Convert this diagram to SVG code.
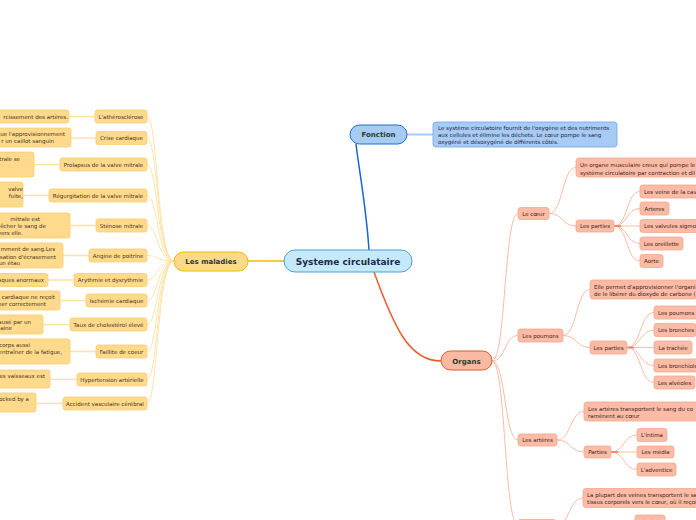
<svg xmlns="http://www.w3.org/2000/svg" width="696" height="520" viewBox="0 0 696 520">
<style>
text{font-family:"DejaVu Sans",Verdana,sans-serif}
.t{font-size:5.5px}
.m{fill:#ffd98c;stroke:#f9cd6e;stroke-width:0.8}
.mt{fill:#46341a;font-size:5.5px}
.o{fill:#fbbba6;stroke:#f7a78c;stroke-width:0.8}
.ot{fill:#3d2218;font-size:5.5px}
.c{text-anchor:middle}
.e{text-anchor:end}
.mc{fill:none;stroke:#fde0a0;stroke-width:0.9}
.md{fill:none;stroke:#fde2a6;stroke-width:1.5}
.oc{fill:none;stroke:#fbb49c;stroke-width:0.9}
.b{font-weight:bold;fill:#1f3d2a;font-size:7px}
</style>
<g id="connectors">
<path d="M369,250 C366,205 359,170 356,144" fill="none" stroke="#1565d8" stroke-width="1.5"/>
<path d="M407,134.5 L433,134.5" fill="none" stroke="#a8cbf6" stroke-width="2"/>
<path d="M284,261 L248,261" fill="none" stroke="#f7b500" stroke-width="1.5"/>
<path d="M374,272 C395,330 410,361 441,361" fill="none" stroke="#ef5a2a" stroke-width="1.5"/>
<path class="mc" d="M174,261 C157,261 158,116.5 147,116.5"/>
<path class="mc" d="M174,261 C157,261 158,138 147,138"/>
<path class="mc" d="M174,261 C157,261 158,164.5 147,164.5"/>
<path class="mc" d="M174,261 C157,261 158,195.5 147,195.5"/>
<path class="mc" d="M174,261 C157,261 158,225.5 147,225.5"/>
<path class="mc" d="M174,261 C157,261 158,255.5 147,255.5"/>
<path class="mc" d="M174,261 C157,261 158,280 147,280"/>
<path class="mc" d="M174,261 C157,261 158,300.5 147,300.5"/>
<path class="mc" d="M174,261 C157,261 158,324.5 147,324.5"/>
<path class="mc" d="M174,261 C157,261 158,351.5 147,351.5"/>
<path class="mc" d="M174,261 C157,261 158,379.5 147,379.5"/>
<path class="mc" d="M174,261 C157,261 158,403.5 147,403.5"/>
<path class="md" d="M95,116.5 L69,116.5"/>
<path class="md" d="M96,138 L71,138"/>
<path class="md" d="M60,164.5 L34,164.5"/>
<path class="md" d="M49,195.5 L23,195.5"/>
<path class="md" d="M96,225.5 L70,225.5"/>
<path class="md" d="M89,255.5 L63,255.5"/>
<path class="md" d="M74,280 L48,280"/>
<path class="md" d="M86,300.5 L60,300.5"/>
<path class="md" d="M70,324.5 L43,324.5"/>
<path class="md" d="M96,351.5 L70,351.5"/>
<path class="md" d="M77,379.5 L50,379.5"/>
<path class="md" d="M63,403.5 L36,403.5"/>
<path class="oc" d="M492,361 C506,361 504,213.5 518,213.5"/>
<path class="oc" d="M492,361 C506,361 504,335.5 518,335.5"/>
<path class="oc" d="M492,361 C506,361 504,440 518,440"/>
<path class="oc" d="M492,361 C506,361 504,525 518,525"/>
<path class="oc" d="M549,213.5 C563,213.5 562,167.5 576,167.5"/>
<path class="oc" d="M549,213.5 C563,213.5 562,226 576,226"/>
<path class="oc" d="M614,226 C628,226 626,191.5 640,191.5"/>
<path class="oc" d="M614,226 C628,226 626,208.5 640,208.5"/>
<path class="oc" d="M614,226 L640,226"/>
<path class="oc" d="M614,226 C628,226 626,243.5 640,243.5"/>
<path class="oc" d="M614,226 C628,226 626,261 640,261"/>
<path d="M614,226 L621,226" stroke="#f4784c" stroke-width="1.5"/>
<path class="oc" d="M563,335.5 C577,335.5 576,289.5 590,289.5"/>
<path class="oc" d="M563,335.5 C577,335.5 576,347.5 590,347.5"/>
<path class="oc" d="M627,347.5 C641,347.5 640,312.5 654,312.5"/>
<path class="oc" d="M627,347.5 C641,347.5 640,330 654,330"/>
<path class="oc" d="M627,347.5 L654,347.5"/>
<path class="oc" d="M627,347.5 C641,347.5 640,365.5 654,365.5"/>
<path class="oc" d="M627,347.5 C641,347.5 640,382.5 654,382.5"/>
<path d="M627,347.5 L634,347.5" stroke="#f4784c" stroke-width="1.5"/>
<path class="oc" d="M557,440 C571,440 570,411.5 584,411.5"/>
<path class="oc" d="M557,440 C571,440 570,452 584,452"/>
<path class="oc" d="M611,452 C625,452 623,435 637,435"/>
<path class="oc" d="M611,452 L637,452"/>
<path class="oc" d="M611,452 C625,452 623,469.5 637,469.5"/>
<path d="M611,452 L618,452" stroke="#f4784c" stroke-width="1.5"/>
<path class="oc" d="M556,525 C570,525 569,498 583,498"/>
</g>
<g id="center">
<rect x="284" y="250" width="128" height="22" rx="11" fill="#c5e8fb" stroke="#4a9fd8" stroke-width="1"/>
<text x="348" y="264.5" class="c" font-size="9" font-weight="bold" fill="#1a2a4a">Systeme circulataire</text>
</g>
<g id="fonction">
<rect x="350" y="125" width="57" height="19" rx="9.5" fill="#a6ccf5" stroke="#1a6fd0" stroke-width="1"/>
<text x="378.5" y="137" class="c b">Fonction</text>
</g>
<g id="fonction-desc">
<rect x="433" y="122" width="184" height="25" rx="3" fill="#a8cbf6" stroke="#6aa6ee" stroke-width="0.8"/>
<text x="438" y="130" class="t" fill="#1a2538">Le système circulatoire fournit de l'oxygène et des nutriments</text>
<text x="438" y="137" class="t" fill="#1a2538">aux cellules et élimine les déchets. Le cœur pompe le sang</text>
<text x="438" y="143.5" class="t" fill="#1a2538">oxygéné et désoxygéné de différents côtés.</text>
</g>
<g id="maladies">
<rect x="174" y="252" width="74" height="19" rx="9.5" fill="#ffd98a" stroke="#f5b800" stroke-width="1"/>
<text x="211" y="264" class="c b">Les maladies</text>
</g>
<g id="organs">
<rect x="441" y="351" width="51" height="19" rx="9.5" fill="#f9b9a3" stroke="#e8592c" stroke-width="1"/>
<text x="466.5" y="363.5" class="c b">Organs</text>
</g>
<g id="m1"><rect class="m" x="95" y="110" width="52" height="13" rx="2.5"/><text class="mt c" x="121" y="118.5">L'athérosclérose</text></g>
<g id="m1d"><rect class="m" x="-20" y="110" width="89" height="13" rx="2.5"/><text class="mt e" x="68" y="118.5">rcissement des artères.</text></g>
<g id="m2"><rect class="m" x="96" y="131.5" width="51" height="13" rx="2.5"/><text class="mt c" x="121.5" y="140">Crise cardiaque</text></g>
<g id="m2d"><rect class="m" x="-20" y="128" width="91" height="19" rx="2.5"/><text class="mt e" x="65" y="136">que l'approvisionnement</text><text class="mt e" x="54" y="143">r un caillot sanguin</text></g>
<g id="m3"><rect class="m" x="60" y="158" width="87" height="13" rx="2.5"/><text class="mt c" x="103.5" y="166.5">Prolapsus de la valve mitrale</text></g>
<g id="m3d"><rect class="m" x="-20" y="152" width="54" height="25" rx="2.5"/><text class="mt e" x="20" y="160.5">trale se</text></g>
<g id="m4"><rect class="m" x="49" y="189" width="98" height="13" rx="2.5"/><text class="mt c" x="98" y="197.5">Régurgitation de la valve mitrale</text></g>
<g id="m4d"><rect class="m" x="-20" y="182" width="43" height="25" rx="2.5"/><text class="mt e" x="23" y="190.5">valve</text><text class="mt e" x="23" y="197.5">fuite,</text></g>
<g id="m5"><rect class="m" x="96" y="219" width="51" height="13" rx="2.5"/><text class="mt c" x="121.5" y="227.5">Sténose mitrale</text></g>
<g id="m5d"><rect class="m" x="-20" y="213" width="90" height="25" rx="2.5"/><text class="mt e" x="40" y="221">mitrale est</text><text class="mt e" x="46" y="228">êcher le sang de</text><text class="mt e" x="23" y="234.5">vers elle.</text></g>
<g id="m6"><rect class="m" x="89" y="249" width="58" height="13" rx="2.5"/><text class="mt c" x="118" y="257.5">Angine de poitrine</text></g>
<g id="m6d"><rect class="m" x="-20" y="243" width="83" height="25" rx="2.5"/><text class="mt e" x="55" y="251">mment de sang.Les</text><text class="mt e" x="56" y="258.5">sation d'écrasement</text><text class="mt e" x="20" y="265">un étau</text></g>
<g id="m7"><rect class="m" x="74" y="273.5" width="73" height="13" rx="2.5"/><text class="mt c" x="110.5" y="282">Arythmie et dysrythmie</text></g>
<g id="m7d"><rect class="m" x="-20" y="273.5" width="68" height="13" rx="2.5"/><text class="mt e" x="44" y="282">aques anormaux</text></g>
<g id="m8"><rect class="m" x="86" y="294" width="61" height="13" rx="2.5"/><text class="mt c" x="116.5" y="302.5">Ischémie cardiaque</text></g>
<g id="m8d"><rect class="m" x="-20" y="291" width="80" height="19" rx="2.5"/><text class="mt e" x="55" y="299">cardiaque ne reçoit</text><text class="mt e" x="46" y="306">ner correctement</text></g>
<g id="m9"><rect class="m" x="70" y="318" width="77" height="13" rx="2.5"/><text class="mt c" x="108.5" y="326.5">Taux de cholestérol élevé</text></g>
<g id="m9d"><rect class="m" x="-20" y="315" width="63" height="19" rx="2.5"/><text class="mt e" x="31" y="323.5">ausé par un</text><text class="mt e" x="12" y="330">aine</text></g>
<g id="m10"><rect class="m" x="96" y="345" width="51" height="13" rx="2.5"/><text class="mt c" x="121.5" y="353.5">Faillite de coeur</text></g>
<g id="m10d"><rect class="m" x="-20" y="339" width="90" height="25" rx="2.5"/><text class="mt e" x="30" y="347">corps aussi</text><text class="mt e" x="62" y="354">entraîner de la fatigue,</text></g>
<g id="m11"><rect class="m" x="77" y="373" width="70" height="13" rx="2.5"/><text class="mt c" x="112" y="381.5">Hypertension artérielle</text></g>
<g id="m11d"><rect class="m" x="-20" y="370" width="70" height="18" rx="2.5"/><text class="mt e" x="45" y="378">es vaisseaux est</text></g>
<g id="m12"><rect class="m" x="63" y="397" width="84" height="13" rx="2.5"/><text class="mt c" x="105" y="405.5">Accident vasculaire cérébral</text></g>
<g id="m12d"><rect class="m" x="-20" y="393" width="56" height="19" rx="2.5"/><text class="mt e" x="29" y="401">ocked by a</text></g>
<g id="coeur"><rect class="o" x="518" y="207.5" width="31" height="12" rx="2.5"/><text class="ot c" x="533.5" y="215.5">Le cœur</text></g>
<g id="coeur-desc"><rect class="o" x="576" y="158" width="130" height="19" rx="3"/><text class="ot" x="580" y="167">Un organe musculaire creux qui pompe le</text><text class="ot" x="580" y="174.5">système circulatoire par contraction et dil</text></g>
<g id="coeur-parties"><rect class="o" x="576" y="220" width="38" height="12" rx="2.5"/><text class="ot c" x="595" y="228">Les parties</text></g>
<g id="c1"><rect class="o" x="640" y="185" width="66" height="13" rx="2.5"/><text class="ot" x="644" y="193.5">Les veine de la cave</text></g>
<g id="c2"><rect class="o" x="640" y="202" width="29" height="13" rx="2.5"/><text class="ot c" x="654.5" y="210.5">Arteres</text></g>
<g id="c3"><rect class="o" x="640" y="219.5" width="66" height="13" rx="2.5"/><text class="ot" x="644" y="228">Les valvules sigmoïdes</text></g>
<g id="c4"><rect class="o" x="640" y="237" width="43" height="13" rx="2.5"/><text class="ot c" x="661.5" y="245.5">Les oreillette</text></g>
<g id="c5"><rect class="o" x="640" y="254.5" width="23" height="13" rx="2.5"/><text class="ot c" x="651.5" y="263">Aorte</text></g>
<g id="poumons"><rect class="o" x="518" y="329" width="45" height="13" rx="2.5"/><text class="ot c" x="540.5" y="337.5">Les poumons</text></g>
<g id="poumons-desc"><rect class="o" x="590" y="280" width="116" height="19" rx="3"/><text class="ot" x="594" y="288.5">Elle permet d'approvisionner l'organi</text><text class="ot" x="594" y="295.5">de le libérer du dioxyde de carbone (</text></g>
<g id="poumons-parties"><rect class="o" x="590" y="341" width="37" height="13" rx="2.5"/><text class="ot c" x="608.5" y="349.5">Les parties</text></g>
<g id="p1"><rect class="o" x="654" y="306" width="50" height="13" rx="2.5"/><text class="ot" x="658" y="314.5">Les poumons</text></g>
<g id="p2"><rect class="o" x="654" y="323.5" width="42" height="13" rx="2.5"/><text class="ot" x="658" y="332">Les bronches</text></g>
<g id="p3"><rect class="o" x="654" y="341" width="38" height="13" rx="2.5"/><text class="ot c" x="673" y="349.5">La trachée</text></g>
<g id="p4"><rect class="o" x="654" y="359" width="52" height="13" rx="2.5"/><text class="ot" x="658" y="367.5">Les bronchioles</text></g>
<g id="p5"><rect class="o" x="654" y="376" width="41" height="13" rx="2.5"/><text class="ot c" x="674.5" y="384.5">Les alvéoles</text></g>
<g id="arteres"><rect class="o" x="518" y="434" width="39" height="12" rx="2.5"/><text class="ot c" x="537.5" y="442">Les artères</text></g>
<g id="arteres-desc"><rect class="o" x="584" y="402" width="122" height="19" rx="3"/><text class="ot" x="588" y="410.5">Les artères transportent le sang du co</text><text class="ot" x="588" y="417.5">ramènent au cœur</text></g>
<g id="arteres-parties"><rect class="o" x="584" y="446" width="27" height="12" rx="2.5"/><text class="ot c" x="597.5" y="454">Parties</text></g>
<g id="a1"><rect class="o" x="637" y="428.5" width="30" height="13" rx="2.5"/><text class="ot c" x="652" y="437">L'intima</text></g>
<g id="a2"><rect class="o" x="637" y="446" width="37" height="12" rx="2.5"/><text class="ot c" x="655.5" y="454">Les média</text></g>
<g id="a3"><rect class="o" x="637" y="463" width="39" height="13" rx="2.5"/><text class="ot c" x="656.5" y="471.5">L'adventice</text></g>
<g id="veines"><rect class="o" x="518" y="519.5" width="38" height="12" rx="2.5"/></g>
<g id="veines-desc"><rect class="o" x="583" y="488.5" width="123" height="19" rx="3"/><text class="ot" x="587" y="497">La plupart des veines transportent le sa</text><text class="ot" x="587" y="504">tissus corporels vers le cœur, où il reçoi</text></g>
<g id="v1"><rect class="o" x="635" y="515" width="30" height="13" rx="2.5"/><text class="ot c" x="650" y="523.5">L'intima</text></g>
</svg>
